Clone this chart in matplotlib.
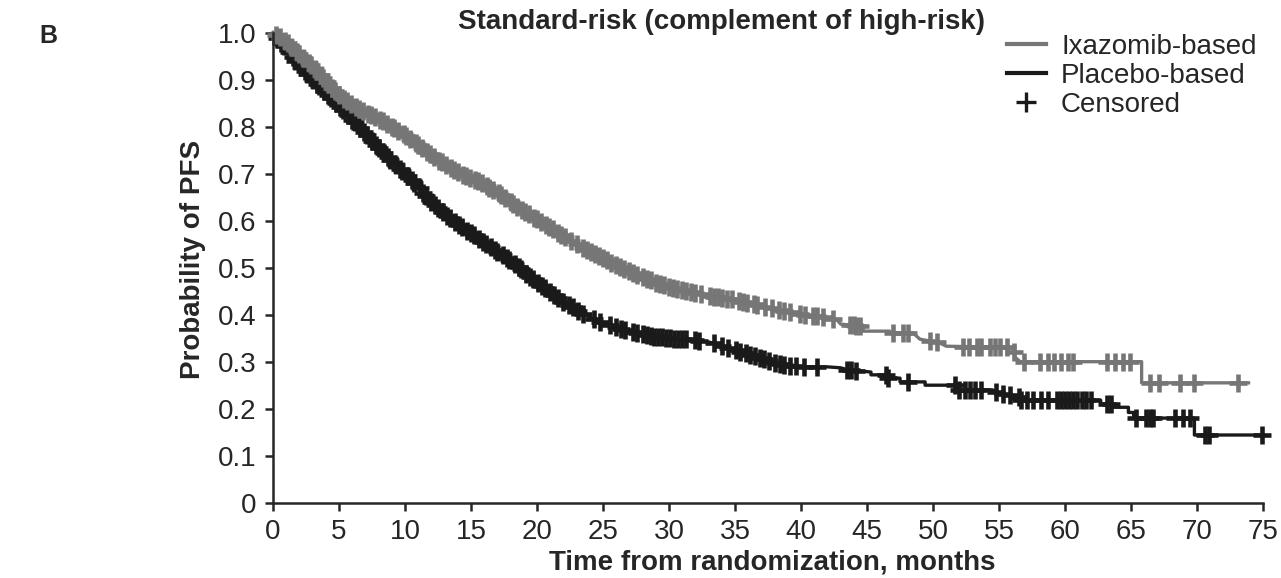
import numpy as np
import matplotlib
matplotlib.use("Agg")
import matplotlib.pyplot as plt
from matplotlib.lines import Line2D

plt.rcParams['font.family'] = ['Liberation Sans', 'DejaVu Sans']

## Kaplan-Meier curves (months, probability of PFS)
ixa_t = [0, 1, 2, 3, 4, 5, 6, 7, 8, 9, 10, 11, 12, 13, 14, 15, 16, 17, 18, 19,
         20, 21, 22, 23, 24, 25, 26, 27, 28, 29, 30, 31, 32, 33, 34, 35, 36, 37,
         38, 39, 40, 41.7, 42.7, 43, 44.7, 44.7, 46.7, 46.9, 48.5, 49, 50.5, 51,
         56, 56.2, 56.6, 65.8, 65.8, 73.9]
ixa_s = [1.0, 0.98, 0.955, 0.928, 0.897, 0.868, 0.847, 0.83, 0.816, 0.80, 0.783,
         0.762, 0.74, 0.72, 0.703, 0.69, 0.677, 0.66, 0.64, 0.62, 0.603, 0.585,
         0.567, 0.55, 0.535, 0.52, 0.505, 0.492, 0.48, 0.468, 0.459, 0.452, 0.446,
         0.44, 0.436, 0.432, 0.425, 0.418, 0.412, 0.406, 0.40, 0.395, 0.39, 0.38,
         0.375, 0.365, 0.365, 0.361, 0.361, 0.348, 0.34, 0.333, 0.33, 0.31, 0.30,
         0.30, 0.255, 0.255]

pla_t = [0, 1, 2, 3, 4, 5, 6, 7, 8, 9, 10, 11, 12, 13, 14, 15, 16, 17, 18, 19,
         20, 21, 22, 23, 24, 25, 26, 27, 28, 29, 30, 31, 32, 33, 34, 35, 36, 37,
         38, 39, 40, 42, 43, 43.5, 45.3, 45.3, 46.5, 46.5, 47.5, 47.5, 49.4, 49.4,
         51.9, 51.9, 54.5, 55, 56.5, 56.6, 62.7, 62.7, 63.6, 63.6, 64.8, 64.8,
         65.2, 65.2, 69.8, 69.8, 74.9]
pla_s = [1.0, 0.965, 0.93, 0.90, 0.873, 0.845, 0.815, 0.785, 0.755, 0.727, 0.70,
         0.672, 0.64, 0.615, 0.593, 0.573, 0.553, 0.534, 0.514, 0.492, 0.47, 0.448,
         0.428, 0.41, 0.395, 0.383, 0.373, 0.365, 0.358, 0.353, 0.35, 0.348, 0.346,
         0.342, 0.334, 0.325, 0.316, 0.308, 0.298, 0.291, 0.289, 0.289, 0.287,
         0.283, 0.278, 0.272, 0.272, 0.265, 0.265, 0.257, 0.257, 0.25, 0.25, 0.24,
         0.24, 0.233, 0.225, 0.218, 0.218, 0.21, 0.21, 0.203, 0.203, 0.192, 0.192,
         0.18, 0.18, 0.144, 0.144]

## censored times (months)
ixa_cens = [0.2, 0.5, 0.9, 1.1, 1.4, 1.8, 2.0, 2.3, 2.7, 2.9, 3.2, 3.6, 3.8, 4.1,
            4.5, 4.7, 5.0, 5.4, 5.6, 5.9, 6.3, 6.5, 6.8, 7.2, 7.4, 7.7, 8.1, 8.3,
            8.6, 9.0, 9.2, 9.5, 9.9, 10.1, 10.4, 10.8, 11.0, 11.3, 11.7, 11.9,
            12.2, 12.6, 12.8, 13.1, 13.5, 13.7, 14.0, 14.4, 14.6, 14.9, 15.3, 15.5,
            15.8, 16.2, 16.4, 16.7, 17.1, 17.3, 17.6, 18.0, 18.2, 18.5, 18.9, 19.1,
            19.4, 19.8, 20.0, 20.3, 20.7, 20.9, 21.2, 21.6, 21.8, 22.1, 22.6, 23.0,
            23.5, 23.8, 24.1, 24.4, 24.7, 25.0, 25.3, 25.6, 26.0, 26.3, 26.6, 27.0,
            27.3, 27.6, 28.0, 28.3, 28.6, 29.0, 29.3, 29.6, 30.0, 30.3, 30.6, 31.0,
            31.3, 31.7, 32.0, 32.4, 33.1, 33.4, 33.7, 34.0, 34.4, 34.8, 35.3, 35.6,
            35.9, 36.4, 36.7, 37.3, 37.8, 38.3, 38.7, 39.2, 39.9, 40.3, 40.9, 41.2,
            41.7, 42.4, 43.7, 44.0, 44.2, 44.5, 47.0, 47.7, 48.1, 49.8, 50.3, 52.3,
            52.7, 53.3, 53.6, 54.3, 54.7, 55.1, 55.6, 56.1, 56.9, 58.1, 58.7, 59.2,
            59.7, 60.2, 60.6, 63.2, 63.8, 64.4, 64.9, 66.4, 67.1, 68.7, 69.8, 73.1]
pla_cens = [0.3, 0.6, 0.8, 1.2, 1.5, 1.7, 2.1, 2.4, 2.6, 3.0, 3.3, 3.5, 3.9, 4.2,
            4.4, 4.8, 5.1, 5.3, 5.7, 6.0, 6.2, 6.6, 6.9, 7.1, 7.5, 7.8, 8.0, 8.4,
            8.7, 8.9, 9.3, 9.6, 9.8, 10.2, 10.5, 10.7, 11.1, 11.4, 11.6, 12.0,
            12.3, 12.5, 12.9, 13.2, 13.4, 13.8, 14.1, 14.3, 14.7, 15.0, 15.2, 15.6,
            15.9, 16.1, 16.5, 16.8, 17.0, 17.4, 17.7, 17.9, 18.3, 18.6, 18.8, 19.2,
            19.5, 19.7, 20.1, 20.4, 20.6, 21.0, 21.3, 21.6, 22.0, 22.4, 22.7, 23.1,
            23.5, 24.3, 24.8, 25.5, 26.0, 26.4, 26.7, 27.3, 27.6, 28.0, 28.3, 28.6,
            28.9, 29.2, 29.5, 29.8, 30.1, 30.4, 30.7, 31.0, 31.3, 32.0, 32.3, 33.4,
            34.0, 34.5, 35.1, 35.4, 35.8, 36.1, 36.5, 36.9, 37.2, 37.6, 38.0, 38.4,
            38.7, 39.2, 39.6, 40.2, 41.2, 43.5, 43.8, 44.2, 46.4, 46.6, 48.1, 51.7,
            52.0, 52.4, 52.8, 53.2, 53.6, 54.8, 55.3, 55.8, 56.5, 56.7, 57.1, 57.6,
            58.2, 58.7, 59.4, 59.7, 60.0, 60.3, 60.6, 60.9, 61.3, 61.6, 62.0, 63.2,
            63.5, 65.4, 66.1, 66.4, 66.7, 68.3, 68.9, 69.5, 70.6, 70.9, 74.9]

x_ticks = list(range(0, 80, 5))
y_ticks = [0, 0.1, 0.2, 0.3, 0.4, 0.5, 0.6, 0.7, 0.8, 0.9, 1.0]
y_labels = ['0', '0.1', '0.2', '0.3', '0.4', '0.5', '0.6', '0.7', '0.8', '0.9', '1.0']

gray = '#767676'
black = '#1a1a1a'
txt = '#262626'
fs = 20

fig = plt.figure(figsize=(12.81, 5.78), dpi=100)
ax = fig.add_axes([0.2131, 0.1303, 0.7729, 0.8131])

## curves, placebo below ixazomib
for t, s, c, cens in [(pla_t, pla_s, black, pla_cens), (ixa_t, ixa_s, gray, ixa_cens)]:
    ax.plot(t, s, color=c, lw=2.4, clip_on=False)
    cy = np.interp(cens, t, s)
    ax.plot(cens, cy, ls='none', marker='+', ms=13.5, mew=3.3, color=c, clip_on=False)

ax.set_xlim(0, 75)
ax.set_ylim(0, 1)
ax.set_xticks(x_ticks)
ax.set_yticks(y_ticks)
ax.set_yticklabels(y_labels)
ax.tick_params(direction='out', length=6, width=1.8, colors=txt, labelsize=fs, pad=6)
for side in ['top', 'right']:
    ax.spines[side].set_visible(False)
for side in ['left', 'bottom']:
    ax.spines[side].set_linewidth(1.8)
    ax.spines[side].set_color(txt)

ax.set_xlabel('Time from randomization, months', fontsize=fs, fontweight='bold', color=txt)
ax.xaxis.set_label_coords(0.504, -0.1)
ax.set_ylabel('Probability of PFS', fontsize=fs, fontweight='bold', color=txt)
ax.yaxis.set_label_coords(-0.068, 0.518)

fig.text(0.5636, 0.962, 'Standard-risk (complement of high-risk)', fontsize=fs,
         fontweight='bold', color=txt, ha='center', va='center')
fig.text(0.031, 0.937, 'B', fontsize=18, fontweight='bold', color=txt, ha='left', va='center')

handles = [Line2D([], [], color=gray, lw=3),
           Line2D([], [], color=black, lw=3),
           Line2D([], [], ls='none', marker='+', ms=14, mew=2.4, color=black)]
ax.legend(handles, ['Ixazomib-based', 'Placebo-based', 'Censored'], loc='upper left',
          bbox_to_anchor=(0.786, 0.942), bbox_transform=fig.transFigure, frameon=False,
          fontsize=fs, handlelength=1.4, handletextpad=0.55, labelspacing=0.11,
          borderpad=0, borderaxespad=0, labelcolor=txt)

fig.savefig('out.png', dpi=100)
